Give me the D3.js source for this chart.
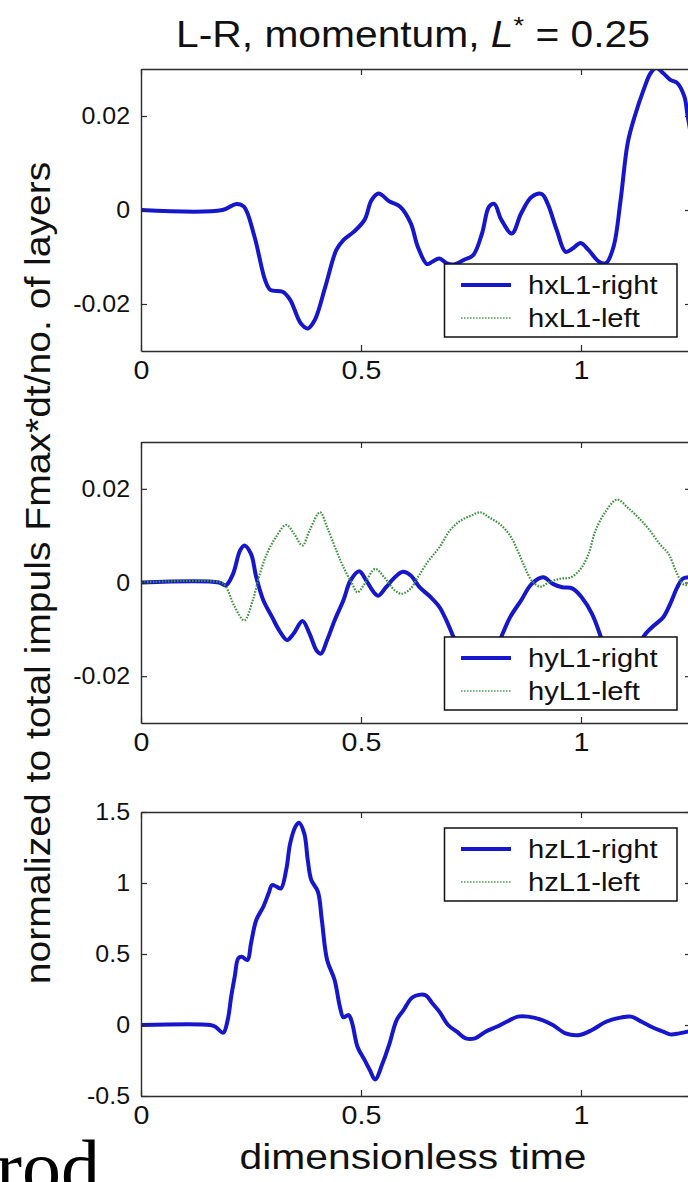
<!DOCTYPE html>
<html><head><meta charset="utf-8">
<script src="https://cdn.jsdelivr.net/npm/d3@7"></script>
<style>html,body{margin:0;padding:0;background:#fff;} svg{display:block;}</style>
</head><body>
<svg id="chart" width="688" height="1182"></svg>
<script>
// ---------- data ----------
const xTicks = [0, 0.5, 1];
const xTickLabels = ["0", "0.5", "1"];
const hTicks = [-0.02, 0, 0.02];
const hTickLabels = ["-0.02", "0", "0.02"];
const zTicks = [-0.5, 0, 0.5, 1, 1.5];
const zTickLabels = ["-0.5", "0", "0.5", "1", "1.5"];
const legendX = ["hxL1-right", "hxL1-left"];
const legendY = ["hyL1-right", "hyL1-left"];
const legendZ = ["hzL1-right", "hzL1-left"];

const hxL1Right = [[0,0],[0.185,0],[0.217,0.0013],[0.234,0.0007],[0.258,-0.0057],[0.282,-0.0149],[0.294,-0.0170],[0.322,-0.0174],[0.339,-0.0191],[0.363,-0.0241],[0.379,-0.0252],[0.395,-0.0234],[0.419,-0.0163],[0.444,-0.0085],[0.460,-0.0064],[0.484,-0.0046],[0.508,-0.0021],[0.524,0.0021],[0.540,0.0035],[0.565,0.0018],[0.589,0.0007],[0.613,-0.0028],[0.629,-0.0078],[0.650,-0.0115],[0.662,-0.0110],[0.678,-0.0103],[0.694,-0.0113],[0.710,-0.0116],[0.734,-0.0106],[0.755,-0.0096],[0.775,-0.0050],[0.791,0.0007],[0.803,0.0013],[0.819,-0.0021],[0.843,-0.0050],[0.864,-0.0007],[0.888,0.0028],[0.911,0.0034],[0.924,0.0014],[0.945,-0.0043],[0.965,-0.0089],[0.981,-0.0082],[0.999,-0.0070],[1.017,-0.0085],[1.041,-0.0110],[1.057,-0.0113],[1.074,-0.0078],[1.090,0.0021],[1.106,0.0142],[1.122,0.0199],[1.142,0.0255],[1.158,0.0291],[1.171,0.0302],[1.187,0.0291],[1.203,0.0277],[1.219,0.0270],[1.235,0.0241],[1.242,0.0202],[1.25,0.0160]];
const hxL1Left = [[0,0],[0.185,0],[0.217,0.0013],[0.234,0.0007],[0.258,-0.0057],[0.282,-0.0149],[0.294,-0.0170],[0.322,-0.0174],[0.339,-0.0191],[0.363,-0.0241],[0.379,-0.0252],[0.395,-0.0234],[0.419,-0.0163],[0.444,-0.0085],[0.460,-0.0064],[0.484,-0.0046],[0.508,-0.0021],[0.524,0.0021],[0.540,0.0035],[0.565,0.0018],[0.589,0.0007],[0.613,-0.0028],[0.629,-0.0078],[0.650,-0.0115],[0.662,-0.0110],[0.678,-0.0103],[0.694,-0.0113],[0.710,-0.0116],[0.734,-0.0106],[0.755,-0.0096],[0.775,-0.0050],[0.791,0.0007],[0.803,0.0013],[0.819,-0.0021],[0.843,-0.0050],[0.864,-0.0007],[0.888,0.0028],[0.911,0.0034],[0.924,0.0014],[0.945,-0.0043],[0.965,-0.0089],[0.981,-0.0082],[0.999,-0.0070],[1.017,-0.0085],[1.041,-0.0110],[1.057,-0.0113],[1.074,-0.0078],[1.090,0.0021],[1.106,0.0142],[1.122,0.0199],[1.142,0.0255],[1.158,0.0291],[1.171,0.0302],[1.187,0.0291],[1.203,0.0277],[1.219,0.0270],[1.235,0.0241],[1.242,0.0202],[1.25,0.0160]];

const hyL1Right = [[0,0],[0.177,0],[0.193,-0.0006],[0.209,0.0018],[0.225,0.0068],[0.235,0.0079],[0.250,0.0061],[0.262,0.0011],[0.278,-0.0038],[0.298,-0.0074],[0.314,-0.0102],[0.332,-0.0123],[0.347,-0.0109],[0.367,-0.0082],[0.383,-0.0109],[0.399,-0.0145],[0.409,-0.0152],[0.423,-0.0123],[0.440,-0.0081],[0.460,-0.0038],[0.476,0.0004],[0.496,0.0024],[0.512,0.0004],[0.532,-0.0024],[0.540,-0.0028],[0.557,-0.0010],[0.577,0.0011],[0.595,0.0023],[0.613,0.0015],[0.633,-0.0010],[0.658,-0.0031],[0.678,-0.0052],[0.694,-0.0081],[0.710,-0.0116],[0.726,-0.0152],[0.750,-0.0190],[0.770,-0.0205],[0.790,-0.0190],[0.819,-0.0116],[0.839,-0.0074],[0.864,-0.0038],[0.888,-0.0003],[0.914,0.0011],[0.936,-0.0003],[0.957,-0.0010],[0.981,-0.0013],[1.001,-0.0031],[1.025,-0.0067],[1.045,-0.0116],[1.070,-0.0190],[1.094,-0.0210],[1.120,-0.0190],[1.142,-0.0116],[1.162,-0.0095],[1.187,-0.0074],[1.203,-0.0045],[1.219,-0.0010],[1.231,0.0008],[1.242,0.0011],[1.25,0.0012]];
const hyL1Left = [[0,0],[0.181,0],[0.193,-0.0009],[0.213,-0.0052],[0.235,-0.0081],[0.254,-0.0038],[0.270,0.0018],[0.286,0.0061],[0.306,0.0096],[0.330,0.0123],[0.348,0.0104],[0.367,0.0079],[0.383,0.0111],[0.407,0.0150],[0.423,0.0118],[0.444,0.0068],[0.460,0.0033],[0.480,-0.0003],[0.492,-0.0021],[0.508,-0.0003],[0.532,0.0029],[0.553,0.0011],[0.577,-0.0017],[0.593,-0.0024],[0.613,-0.0013],[0.629,0.0011],[0.654,0.0047],[0.678,0.0075],[0.702,0.0111],[0.726,0.0132],[0.751,0.0143],[0.771,0.0150],[0.791,0.0139],[0.815,0.0125],[0.839,0.0100],[0.856,0.0068],[0.872,0.0033],[0.888,0.0004],[0.908,-0.0009],[0.928,0.0001],[0.953,0.0008],[0.977,0.0011],[0.999,0.0029],[1.017,0.0061],[1.033,0.0111],[1.057,0.0153],[1.082,0.0177],[1.106,0.0160],[1.130,0.0139],[1.154,0.0114],[1.179,0.0082],[1.199,0.0061],[1.215,0.0026],[1.231,-0.0003],[1.242,-0.0006],[1.25,-0.0007]];

const hzL1Right = [[0,0],[0.157,0],[0.169,-0.012],[0.187,-0.054],[0.197,0.035],[0.205,0.200],[0.213,0.340],[0.221,0.469],[0.229,0.481],[0.242,0.458],[0.250,0.575],[0.262,0.739],[0.278,0.833],[0.290,0.927],[0.298,0.986],[0.308,0.974],[0.318,0.962],[0.330,1.092],[0.339,1.279],[0.351,1.397],[0.359,1.425],[0.371,1.350],[0.379,1.162],[0.387,1.021],[0.402,0.939],[0.411,0.739],[0.423,0.458],[0.440,0.317],[0.452,0.129],[0.460,0.054],[0.472,0.070],[0.480,0.012],[0.492,-0.153],[0.508,-0.246],[0.520,-0.317],[0.532,-0.383],[0.549,-0.270],[0.565,-0.129],[0.581,0.035],[0.597,0.106],[0.617,0.195],[0.646,0.211],[0.662,0.153],[0.678,0.094],[0.698,0],[0.718,-0.047],[0.738,-0.094],[0.759,-0.094],[0.783,-0.047],[0.807,-0.014],[0.831,0.023],[0.856,0.059],[0.880,0.059],[0.912,0.035],[0.936,0],[0.965,-0.059],[0.997,-0.070],[1.025,-0.035],[1.057,0.023],[1.090,0.052],[1.114,0.059],[1.138,0.023],[1.162,-0.016],[1.187,-0.047],[1.203,-0.066],[1.223,-0.059],[1.242,-0.047],[1.25,-0.040]];
const hzL1Left = [[0,0],[0.157,0],[0.169,-0.012],[0.187,-0.054],[0.197,0.035],[0.205,0.200],[0.213,0.340],[0.221,0.469],[0.229,0.481],[0.242,0.458],[0.250,0.575],[0.262,0.739],[0.278,0.833],[0.290,0.927],[0.298,0.986],[0.308,0.974],[0.318,0.962],[0.330,1.092],[0.339,1.279],[0.351,1.397],[0.359,1.425],[0.371,1.350],[0.379,1.162],[0.387,1.021],[0.402,0.939],[0.411,0.739],[0.423,0.458],[0.440,0.317],[0.452,0.129],[0.460,0.054],[0.472,0.070],[0.480,0.012],[0.492,-0.153],[0.508,-0.246],[0.520,-0.317],[0.532,-0.383],[0.549,-0.270],[0.565,-0.129],[0.581,0.035],[0.597,0.106],[0.617,0.195],[0.646,0.211],[0.662,0.153],[0.678,0.094],[0.698,0],[0.718,-0.047],[0.738,-0.094],[0.759,-0.094],[0.783,-0.047],[0.807,-0.014],[0.831,0.023],[0.856,0.059],[0.880,0.059],[0.912,0.035],[0.936,0],[0.965,-0.059],[0.997,-0.070],[1.025,-0.035],[1.057,0.023],[1.090,0.052],[1.114,0.059],[1.138,0.023],[1.162,-0.016],[1.187,-0.047],[1.203,-0.066],[1.223,-0.059],[1.242,-0.047],[1.25,-0.040]];

// ---------- layout / style ----------
const FONT = "'Liberation Sans', Arial, Helvetica, sans-serif";
const SX = 1.1; // horizontal text stretch seen in the figure
const SXT = 1.04; // stretch for y tick labels
const BLUE = "#1616cc", GREEN = "#3f933f", AXC = "#2b2b2b";
const svg = d3.select("#chart");
const x = d3.scaleLinear().domain([0, 1.25]).range([141, 691]);

const panels = [
  {top: 69,  bottom: 351,  dom: [-0.03, 0.03], ticks: hTicks, labels: hTickLabels, right: hxL1Right, left: hxL1Left, leg: legendX, legTop: 264, leftOnTop: false},
  {top: 442, bottom: 723,  dom: [-0.03, 0.03], ticks: hTicks, labels: hTickLabels, right: hyL1Right, left: hyL1Left, leg: legendY, legTop: 637, leftOnTop: true},
  {top: 812, bottom: 1096, dom: [-0.5, 1.5],   ticks: zTicks, labels: zTickLabels, right: hzL1Right, left: hzL1Left, leg: legendZ, legTop: 828, leftOnTop: false}
];

function styleAxis(g) {
  g.select(".domain").attr("stroke", AXC).attr("stroke-width", 1.4);
  g.selectAll(".tick line").attr("stroke", AXC).attr("stroke-width", 1.2);
  g.selectAll("text").attr("font-family", FONT).attr("fill", "#111");
}

panels.forEach((p, i) => {
  const y = d3.scaleLinear().domain(p.dom).range([p.bottom, p.top]);
  const g = svg.append("g");
  const clipId = "clip" + i;
  svg.append("defs").append("clipPath").attr("id", clipId)
    .append("rect").attr("x", x.range()[0]).attr("y", p.top)
    .attr("width", x.range()[1] - x.range()[0]).attr("height", p.bottom - p.top);

  const line = d3.line().x(d => x(d[0])).y(d => y(d[1])).curve(d3.curveCatmullRom.alpha(0.5));
  const lines = g.append("g").attr("clip-path", `url(#${clipId})`);
  const drawLeft = () => lines.append("path").attr("d", line(p.left)).attr("fill", "none")
      .attr("stroke", GREEN).attr("stroke-width", 2.2).attr("stroke-dasharray", "1.6 1.4");
  const drawRight = () => lines.append("path").attr("d", line(p.right)).attr("fill", "none")
      .attr("stroke", BLUE).attr("stroke-width", 4).attr("stroke-linejoin", "round");
  if (p.leftOnTop) { drawRight(); drawLeft(); } else { drawLeft(); drawRight(); }

  // axes (MATLAB box with inward ticks)
  const ab = g.append("g").attr("transform", `translate(0,${p.bottom})`)
    .call(d3.axisBottom(x).tickValues(xTicks).tickFormat((d, k) => xTickLabels[k])
      .tickSizeInner(-6).tickSizeOuter(0).tickPadding(10));
  styleAxis(ab);
  ab.selectAll("text").attr("font-size", 26).attr("transform", `scale(${SX},1)`);

  const at = g.append("g").attr("transform", `translate(0,${p.top})`)
    .call(d3.axisTop(x).tickValues(xTicks).tickFormat("").tickSizeInner(-6).tickSizeOuter(0));
  styleAxis(at);

  const al = g.append("g").attr("transform", `translate(${x.range()[0]},0)`)
    .call(d3.axisLeft(y).tickValues(p.ticks).tickFormat((d, k) => p.labels[k])
      .tickSizeInner(-6).tickSizeOuter(0).tickPadding(11));
  styleAxis(al);
  al.selectAll("text").attr("font-size", 24).attr("x", -11 / SXT).attr("transform", `scale(${SXT},1)`);

  const ar = g.append("g").attr("transform", `translate(${x.range()[1]},0)`)
    .call(d3.axisRight(y).tickValues(p.ticks).tickFormat("").tickSizeInner(-6).tickSizeOuter(0));
  styleAxis(ar);

  // legend
  const lg = g.append("g");
  lg.append("rect").attr("x", 444.5).attr("y", p.legTop).attr("width", 232.5).attr("height", 73)
    .attr("fill", "#fff").attr("stroke", "#111").attr("stroke-width", 1.5);
  const rows = [p.legTop + 21, p.legTop + 54];
  lg.append("line").attr("x1", 461).attr("x2", 511).attr("y1", rows[0]).attr("y2", rows[0])
    .attr("stroke", BLUE).attr("stroke-width", 4);
  lg.append("line").attr("x1", 461).attr("x2", 511).attr("y1", rows[1]).attr("y2", rows[1])
    .attr("stroke", "#7fb57f").attr("stroke-width", 2).attr("stroke-dasharray", "1.6 1.4");
  p.leg.forEach((t, k) => {
    lg.append("text").attr("x", 528 / SX).attr("y", rows[k] + 9).attr("transform", `scale(${SX},1)`)
      .attr("font-family", FONT).attr("font-size", 26.5).attr("fill", "#111").text(t);
  });
});

// fit helper: horizontal stretch factor that gives a text its target width
function fitText(g, target) {
  const w = g.node().getBBox().width;
  return target / w;
}

// title
const tg = svg.append("g");
const tt = tg.append("text").attr("text-anchor", "middle").attr("font-family", FONT).attr("font-size", 36).attr("fill", "#111");
tt.append("tspan").text("L-R, momentum, ");
tt.append("tspan").attr("font-style", "italic").text("L");
tt.append("tspan").attr("dy", -13).attr("font-size", 24).text("*");
tt.append("tspan").attr("dy", 13).text(" = 0.25");
const ts = fitText(tt, 474);
tg.attr("transform", `translate(413,47) scale(${ts},1)`);

// x label
const xg = svg.append("g");
const xt = xg.append("text").attr("text-anchor", "middle").attr("font-family", FONT).attr("font-size", 36).attr("fill", "#111").text("dimensionless time");
xg.attr("transform", `translate(413,1169) scale(${fitText(xt, 347)},1)`);

// y label
const yg = svg.append("g");
const yt = yg.append("text").attr("text-anchor", "middle").attr("font-family", FONT).attr("font-size", 36).attr("fill", "#111").text("normalized to total impuls Fmax*dt/no. of layers");
yg.attr("transform", `translate(50,573) rotate(-90) scale(${fitText(yt, 823)},1)`);

// stray page text at bottom-left (cut by the picture's edge, as in the source)
svg.append("text").attr("x", -4).attr("y", 1194).attr("font-family", "'Liberation Serif', 'Times New Roman', serif")
  .attr("font-size", 78).attr("fill", "#000").text("rod");
</script>
</body></html>
